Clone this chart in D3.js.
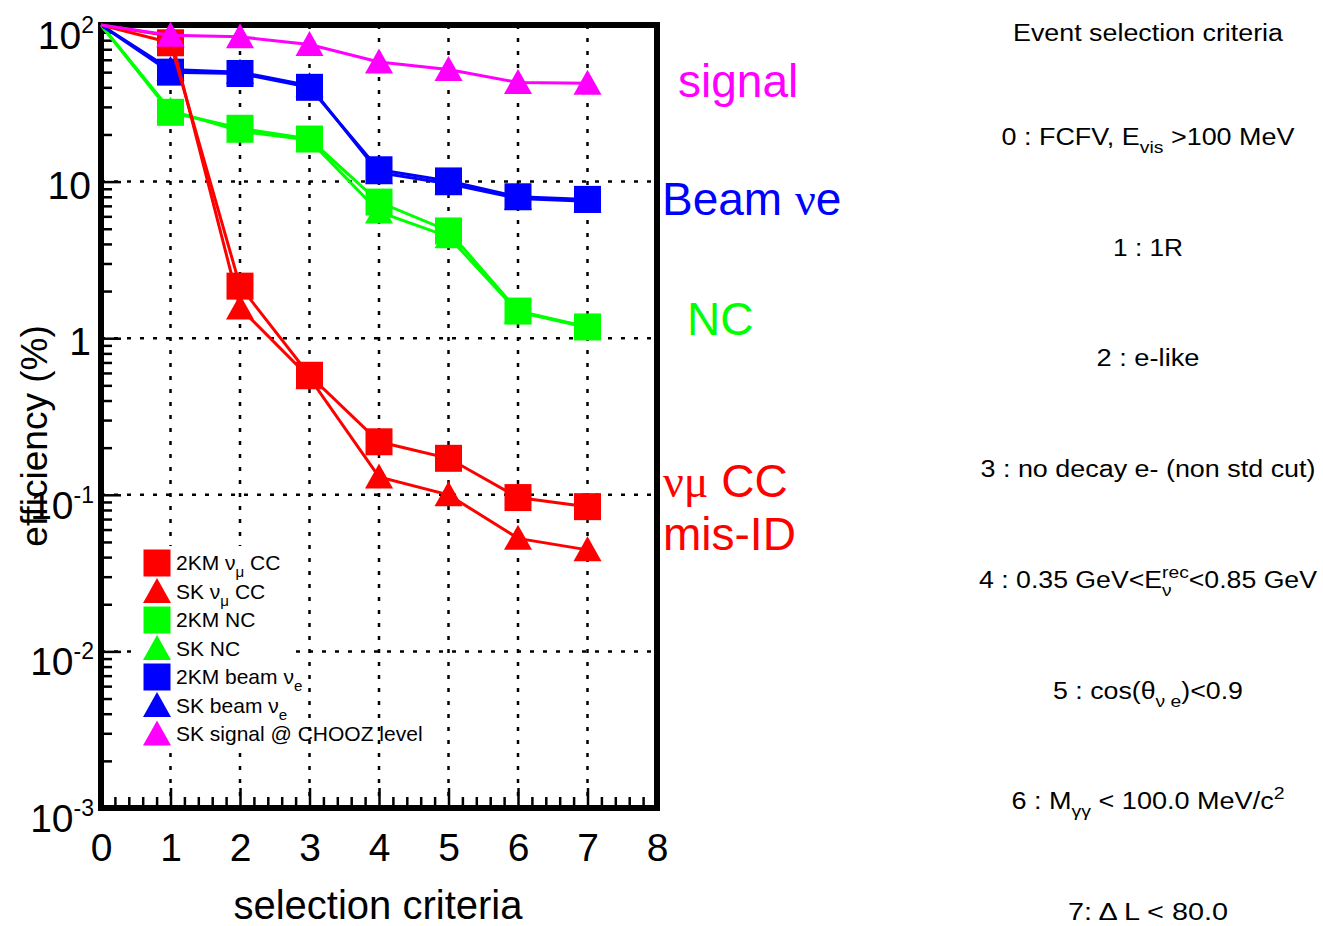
<!DOCTYPE html>
<html>
<head>
<meta charset="utf-8">
<script src="https://cdn.jsdelivr.net/npm/d3@7"></script>
<style>
    body { margin: 0; background: #fff; }
    svg { display: block; font-family: "Liberation Sans", Arial, Helvetica, sans-serif; }
</style>
</head>
<body>
<div id="chart"></div>
<script>
// Selection steps (x) and efficiencies in % (y)
const steps = [0, 1, 2, 3, 4, 5, 6, 7];
const km2NumuCC   = [100, 77, 2.15, 0.58, 0.218, 0.171, 0.096, 0.084];
const skNumuCC    = [100, 85, 1.56, 0.56, 0.13, 0.10, 0.0527, 0.0445];
const km2NC       = [100, 27.7, 21.9, 18.7, 7.4, 4.84, 1.49, 1.18];
const skNC        = [100, 28.5, 21.0, 18.4, 6.4, 4.45, 1.47, 1.17];
const km2BeamNue  = [100, 50, 49, 40, 11.9, 10.1, 8.0, 7.7];
const skBeamNue   = [100, 52, 50, 41, 11.4, 9.7, 7.8, 7.5];
const skSignal    = [100, 86, 84, 75, 58, 52, 43, 42.5];

// Axis ticks
const xTickValues = [0, 1, 2, 3, 4, 5, 6, 7, 8];
const yTickValues = [100, 10, 1, 0.1, 0.01, 0.001];
const yTickBases  = ['10', '10', '1', '10', '10', '10'];
const yTickExps   = ['2', '', '', '-1', '-2', '-3'];

// Legend rows: [text parts], parts are [string, 'sub'|'sup'|'']
const legendLabels = [
    [['2KM ν'], ['μ', 'sub'], [' CC']],
    [['SK ν'], ['μ', 'sub'], [' CC']],
    [['2KM NC']],
    [['SK NC']],
    [['2KM beam ν'], ['e', 'sub']],
    [['SK beam ν'], ['e', 'sub']],
    [['SK signal @ CHOOZ level']]
];

// Right-hand panel
const criteriaTitle = 'Event selection criteria';
const criteriaLines = [
    [['0 : FCFV, E'], ['vis', 'sub'], [' >100 MeV']],
    [['1 : 1R']],
    [['2 : e-like']],
    [['3 : no decay e- (non std cut)']],
    [['4 : 0.35 GeV<E'], ['rec', 'sup'], ['ν', 'under'], ['<0.85 GeV']],
    [['5 : cos(θ'], ['ν e', 'sub'], [')<0.9']],
    [['6 : M'], ['γγ', 'sub'], [' < 100.0 MeV/c'], ['2', 'sup']],
    [['7: Δ L < 80.0']]
];
const criteriaWidths = [293, 70, 103, 335, 338, 190, 273, 160];
const criteriaTitleWidth = 270;

const series = [
    { name: 'SK NC', values: skNC, color: '#00ff00', marker: 'tri' },
    { name: '2KM NC', values: km2NC, color: '#00ff00', marker: 'sq' },
    { name: 'SK beam', values: skBeamNue, color: '#0000ff', marker: 'tri' },
    { name: '2KM beam', values: km2BeamNue, color: '#0000ff', marker: 'sq' },
    { name: 'SK numu CC', values: skNumuCC, color: '#ff0000', marker: 'tri' },
    { name: '2KM numu CC', values: km2NumuCC, color: '#ff0000', marker: 'sq' },
    { name: 'SK signal', values: skSignal, color: '#ff00ff', marker: 'tri' }
];
const legendColors  = ['#ff0000', '#ff0000', '#00ff00', '#00ff00', '#0000ff', '#0000ff', '#ff00ff'];
const legendMarkers = ['sq', 'tri', 'sq', 'tri', 'sq', 'tri', 'tri'];

const W = 1323, H = 926;
const svg = d3.select('#chart').append('svg')
    .attr('width', W)
    .attr('height', H);

const x = d3.scaleLinear().domain([0, 8]).range([101, 657]);
const y = d3.scaleLog().domain([1e-3, 1e2]).range([808, 25]);

// marker paths
const markerPath = {
    sq: 'M-13.5,-13.5H13.5V13.5H-13.5Z',
    tri: 'M0,-13.5L14,11.5H-14Z'
};

// sub/superscript helper
function addParts(text, parts, fs) {
    let level = 0;
    let lastLen = 0;
    let backTo = 0;
    parts.forEach(([str, kind]) => {
        const small = kind === 'sub' || kind === 'sup' || kind === 'under';
        const target = kind === 'sub' || kind === 'under' ? fs * 0.35 : kind === 'sup' ? -fs * 0.45 : 0;
        const t = text.append('tspan')
            .attr('dy', target - level)
            .style('font-size', (small ? fs * 0.72 : fs) + 'px')
            .text(str);
        if (kind === 'under') t.attr('dx', -lastLen);
        else if (backTo) t.attr('dx', backTo);
        const len = t.node().getComputedTextLength();
        backTo = kind === 'under' ? Math.max(0, lastLen - len) : 0;
        lastLen = len;
        level = target;
    });
}

// grid
const grid = svg.append('g')
    .attr('stroke', '#000')
    .attr('stroke-width', 2.5)
    .attr('stroke-dasharray', '4,9');

grid.selectAll('line.v')
    .data(xTickValues.slice(1, -1))
    .join('line')
    .attr('class', 'v')
    .attr('x1', d => x(d)).attr('x2', d => x(d))
    .attr('y1', y(1e2)).attr('y2', y(1e-3));

grid.selectAll('line.h')
    .data(yTickValues.slice(1, -1))
    .join('line')
    .attr('class', 'h')
    .attr('x1', x(0)).attr('x2', x(8))
    .attr('y1', d => y(d)).attr('y2', d => y(d));

// axes ticks (drawn inward)
const xMinor = d3.range(0, 8.001, 0.2).filter(d => Math.abs(d - Math.round(d)) > 1e-6);
const yMinor = [];
[-3, -2, -1, 0, 1].forEach(e => {
    for (let m = 2; m <= 9; m++) yMinor.push(m * Math.pow(10, e));
});

function styleAxis(g) {
    g.select('.domain').remove();
    g.selectAll('line').attr('stroke', '#000').attr('stroke-width', 2.5);
}

svg.append('g')
    .attr('transform', `translate(0,${y(1e-3)})`)
    .call(d3.axisBottom(x).tickValues(xTickValues).tickSize(-20).tickPadding(25).tickFormat(d3.format('d')))
    .call(styleAxis)
    .attr('font-size', 39)
    .attr('font-family', null);

svg.append('g')
    .attr('transform', `translate(0,${y(1e-3)})`)
    .call(d3.axisBottom(x).tickValues(xMinor).tickSize(-11).tickFormat(''))
    .call(styleAxis);

svg.append('g')
    .attr('transform', `translate(${x(0)},0)`)
    .call(d3.axisLeft(y).tickValues(yTickValues).tickSize(-20).tickFormat(''))
    .call(styleAxis);

svg.append('g')
    .attr('transform', `translate(${x(0)},0)`)
    .call(d3.axisLeft(y).tickValues(yMinor).tickSize(-11).tickFormat(''))
    .call(styleAxis);

// y tick labels with exponents
yTickValues.forEach((v, i) => {
    const hasExp = yTickExps[i] !== '';
    const t = svg.append('text')
        .attr('x', hasExp ? 94 : 91)
        .attr('y', y(v) + (hasExp ? 24 : 17))
        .attr('text-anchor', 'end')
        .style('font-size', '39px');
    t.append('tspan').text(yTickBases[i]);
    if (hasExp) {
        t.append('tspan')
            .attr('dy', -16)
            .style('font-size', '23px')
            .text(yTickExps[i]);
    }
});

// frame
svg.append('rect')
    .attr('x', x(0)).attr('y', y(1e2))
    .attr('width', x(8) - x(0)).attr('height', y(1e-3) - y(1e2))
    .attr('fill', 'none')
    .attr('stroke', '#000')
    .attr('stroke-width', 6);

// series
const line = d3.line()
    .x((d, i) => x(steps[i]))
    .y(d => y(d));

series.forEach(s => {
    const g = svg.append('g');
    g.append('path')
        .attr('d', line(s.values))
        .attr('fill', 'none')
        .attr('stroke', s.color)
        .attr('stroke-width', 3);
    g.selectAll('path.m')
        .data(s.values.slice(1))
        .join('path')
        .attr('class', 'm')
        .attr('d', markerPath[s.marker])
        .attr('transform', (d, i) => `translate(${x(steps[i + 1])},${y(d)})`)
        .attr('fill', s.color);
});

// legend
const legend = svg.append('g');
legend.append('rect')
    .attr('x', 136).attr('y', 546)
    .attr('width', 154).attr('height', 203)
    .attr('fill', '#fff');

legendLabels.forEach((parts, i) => {
    const cy = 563 + i * 28.5;
    legend.append('path')
        .attr('d', markerPath[legendMarkers[i]])
        .attr('transform', `translate(157,${cy})`)
        .attr('fill', legendColors[i]);
    const t = legend.append('text')
        .attr('x', 176)
        .attr('y', cy + 7)
        .style('font-size', '21px');
    addParts(t, parts, 21);
});

// axis titles
svg.append('text')
    .attr('x', 378).attr('y', 919)
    .attr('text-anchor', 'middle')
    .style('font-size', '40px')
    .text('selection criteria');

svg.append('text')
    .attr('transform', 'translate(47,436) rotate(-90)')
    .attr('text-anchor', 'middle')
    .style('font-size', '37px')
    .text('efficiency (%)');

// category annotations
const serif = '"Liberation Serif", "DejaVu Serif", serif';
svg.append('text').attr('x', 678).attr('y', 97)
    .style('font-size', '46px').attr('fill', '#ff00ff').text('signal');

const beam = svg.append('text').attr('x', 662).attr('y', 215)
    .style('font-size', '46px').attr('fill', '#0000ff');
beam.append('tspan').text('Beam ');
beam.append('tspan').style('font-family', serif).text('ν');
beam.append('tspan').text('e');

svg.append('text').attr('x', 687).attr('y', 335)
    .style('font-size', '46px').attr('fill', '#00ff00').text('NC');

const numu = svg.append('text').attr('x', 663).attr('y', 497)
    .style('font-size', '46px').attr('fill', '#ff0000');
numu.append('tspan').style('font-family', serif).text('νμ');
numu.append('tspan').text(' CC');

svg.append('text').attr('x', 663).attr('y', 550)
    .style('font-size', '46px').attr('fill', '#ff0000').text('mis-ID');

// criteria panel
const cx = 1148;
svg.append('text')
    .attr('x', cx).attr('y', 41)
    .attr('text-anchor', 'middle')
    .style('font-size', '23px')
    .attr('textLength', criteriaTitleWidth)
    .attr('lengthAdjust', 'spacingAndGlyphs')
    .text(criteriaTitle);

const criteriaY = d3.scaleLinear().domain([0, 7]).range([145, 920]);
criteriaLines.forEach((parts, i) => {
    const t = svg.append('text')
        .attr('x', cx)
        .attr('y', criteriaY(i))
        .attr('text-anchor', 'middle')
        .style('font-size', '23px');
    addParts(t, parts, 23);
    t.attr('textLength', criteriaWidths[i]).attr('lengthAdjust', 'spacingAndGlyphs');
});
</script>
</body>
</html>
